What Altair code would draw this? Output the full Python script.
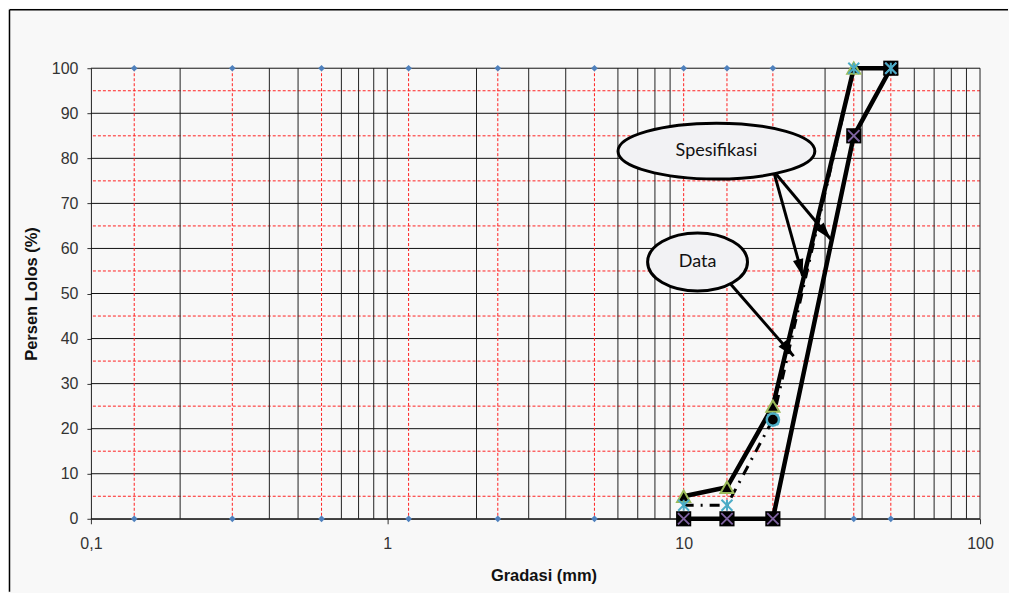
import math
import altair as alt
import pandas as pd

# ---------------- data ----------------
sieve_mm = [0.14, 0.3, 0.6, 1.18, 2.36, 5, 10, 14, 20, 37.5, 50]
x_grid_black = [0.2, 0.4, 0.5, 0.7, 0.8, 0.9, 1,
                2, 3, 4, 6, 7, 8, 9,
                30, 40, 60, 70, 80, 90, 100]
x_ticks = [0.1, 1, 10, 100]
y_grid_major = [0, 10, 20, 30, 40, 50, 60, 70, 80, 90, 100]
y_grid_minor = [5, 15, 25, 35, 45, 55, 65, 75, 85, 95]

spec_mm = [10, 14, 20, 37.5, 50]
spec_lower = [0, 0, 0, 85, 100]
spec_upper = [3, 3, 22, 100, 100]
data_mm = [10, 14, 20, 37.5, 50]
data_pass = [5, 7, 25, 100, 100]
circle_mm = [20]
circle_pass = [22]

# annotations (data units)
label_text = ["Spesifikasi", "Data"]
label_mm = [12.9, 11.14]
label_pass = [81.6, 57.0]
arrow_from_mm = [20.1, 20.1, 14.4]
arrow_from_pass = [77.2, 77.2, 52.1]
arrow_to_mm = [25.2, 31.3, 23.5]
arrow_to_pass = [53.9, 62.1, 36.1]

# ---------------- layout / style ----------------
W, H = 890, 451
xs = alt.Scale(type="log", domain=[0.1, 100], nice=False)
ys = alt.Scale(domain=[0, 100], nice=False)


def heading(x1, y1, x2, y2):
    dx = (math.log10(x2) - math.log10(x1)) * W / 3
    dy = -(y2 - y1) * H / 100
    return math.degrees(math.atan2(dx, -dy)) % 360


df_axes = pd.DataFrame({"x": [0.1, 100], "y": [0, 100]})
df_sieve = pd.DataFrame({"x": sieve_mm})
df_sieve_pts = pd.DataFrame({"x": sieve_mm * 2, "y": [0] * len(sieve_mm) + [100] * len(sieve_mm)})
df_xblack = pd.DataFrame({"x": x_grid_black})
df_ymajor = pd.DataFrame({"y": y_grid_major})
df_yminor = pd.DataFrame({"y": y_grid_minor})
df_low = pd.DataFrame({"x": spec_mm, "y": spec_lower})
df_up = pd.DataFrame({"x": spec_mm, "y": spec_upper})
df_data = pd.DataFrame({"x": data_mm, "y": data_pass})
df_circ = pd.DataFrame({"x": circle_mm, "y": circle_pass})
df_lab = pd.DataFrame({"x": label_mm, "y": label_pass, "t": label_text})
df_arr = pd.DataFrame({
    "x": arrow_from_mm, "y": arrow_from_pass,
    "x2": arrow_to_mm, "y2": arrow_to_pass,
})
df_arr["ang"] = [heading(a, b, c, d) for a, b, c, d in zip(arrow_from_mm, arrow_from_pass, arrow_to_mm, arrow_to_pass)]

x_axis = alt.Axis(values=x_ticks, title="Gradasi (mm)", grid=False, labelFlush=False,
                  labelExpr="datum.value < 0.5 ? '0,1' : datum.label",
                  tickSize=5, labelPadding=12, titlePadding=16, titleX=453)
y_axis = alt.Axis(values=y_grid_major, title="Persen Lolos (%)", grid=False, labelFlush=False,
                  tickSize=4, labelPadding=9, titlePadding=12)


def X(field="x"):
    return alt.X(f"{field}:Q", scale=xs, axis=x_axis)


def Y(field="y"):
    return alt.Y(f"{field}:Q", scale=ys, axis=y_axis)


red_h = alt.Chart(df_yminor).mark_rule(color="#ff2020", strokeDash=[3, 2], strokeWidth=1).encode(y=Y())
black_v = alt.Chart(df_xblack).mark_rule(color="#222", strokeWidth=1).encode(x=X())
black_h = alt.Chart(df_ymajor).mark_rule(color="#111", strokeWidth=1).encode(y=Y())
red_v = alt.Chart(df_sieve).mark_rule(color="#ff2020", strokeDash=[3, 2], strokeWidth=1).encode(x=X())
diamonds = alt.Chart(df_sieve_pts).mark_point(shape="diamond", filled=True, color="#4f81bd",
                                              size=45, opacity=1).encode(x=X(), y=Y())

line_up = alt.Chart(df_up).mark_line(color="black", strokeWidth=3, strokeDash=[10, 7, 2, 7]).encode(x=X(), y=Y())
line_low = alt.Chart(df_low).mark_line(color="black", strokeWidth=4.5).encode(x=X(), y=Y())
line_data = alt.Chart(df_data).mark_line(color="black", strokeWidth=4.5).encode(x=X(), y=Y())

tri = alt.Chart(df_data).mark_point(shape="triangle-up", filled=True, fill="black", stroke="#9bbb59",
                                    strokeWidth=2, size=170, opacity=1).encode(x=X(), y=Y())
sq = alt.Chart(df_low).mark_point(shape="square", filled=True, color="black", size=230,
                                  opacity=1).encode(x=X(), y=Y())
xmark = alt.Chart(df_low).mark_point(shape="M-1,-1L1,1M-1,1L1,-1", filled=False, stroke="#8064a2",
                                     strokeWidth=1.8, size=130, opacity=1).encode(x=X(), y=Y())
ast = alt.Chart(df_up).mark_point(shape="M-1,-1L1,1M-1,1L1,-1M0,-1L0,1", filled=False, stroke="#4bacc6",
                                  strokeWidth=2, size=120, opacity=1).encode(x=X(), y=Y())
circ = alt.Chart(df_circ).mark_point(shape="circle", filled=True, fill="black", stroke="#4bacc6",
                                     strokeWidth=2.5, size=150, opacity=1).encode(x=X(), y=Y())

arrow_lines = alt.Chart(df_arr).mark_rule(color="black", strokeWidth=3).encode(
    x=X(), y=Y(), x2="x2:Q", y2="y2:Q")
arrow_heads = alt.Chart(df_arr).mark_point(shape="M0,0L0.5,1.6L-0.5,1.6Z", filled=True, color="black",
                                           size=450, opacity=1).encode(
    x=X("x2"), y=Y("y2"), angle=alt.Angle("ang:Q", scale=None))

ell_spes = alt.Chart(df_lab[df_lab.t == "Spesifikasi"]).mark_point(
    shape="M-1,0A1,0.2843 0 1,1 1,0A1,0.2843 0 1,1 -1,0Z", filled=True, fill="#f2f2f4",
    stroke="black", strokeWidth=3, size=197 * 197, opacity=1).encode(x=X(), y=Y())
ell_data = alt.Chart(df_lab[df_lab.t == "Data"]).mark_point(
    shape="M-1,0A1,0.58 0 1,1 1,0A1,0.58 0 1,1 -1,0Z", filled=True, fill="#f2f2f4",
    stroke="black", strokeWidth=3, size=100 * 100, opacity=1).encode(x=X(), y=Y())
labels = alt.Chart(df_lab).mark_text(font="Lato", fontSize=18, color="#111").encode(
    text="t:N", x=X(), y=Y())

border_l = alt.Chart(df_axes.head(1)).mark_rule(color="black", strokeWidth=1.5).encode(
    x=alt.value(-81.5), y=alt.value(-58.5), y2=alt.value(H + 73))
border_t = alt.Chart(df_axes.head(1)).mark_rule(color="black", strokeWidth=1.5).encode(
    x=alt.value(-81.5), x2=alt.value(W + 28), y=alt.value(-58.5))

chart = alt.layer(
    red_h, black_v, black_h, red_v, diamonds,
    line_up, line_low, line_data,
    tri, sq, xmark, ast, circ,
    arrow_lines, arrow_heads, ell_spes, ell_data, labels,
    border_l, border_t,
).properties(
    width=W, height=H,
    padding=0,
    background="#f8f8f8",
).configure_view(stroke=None).configure_axis(
    labelFont="Liberation Sans", labelFontSize=16, labelColor="#333",
    titleFont="Liberation Sans", titleFontSize=16.5, titleFontWeight="bold", titleColor="#111",
    tickColor="#333", domainColor="#222",
)

chart.save("out.html", embed_options={"renderer": "svg", "actions": False})
